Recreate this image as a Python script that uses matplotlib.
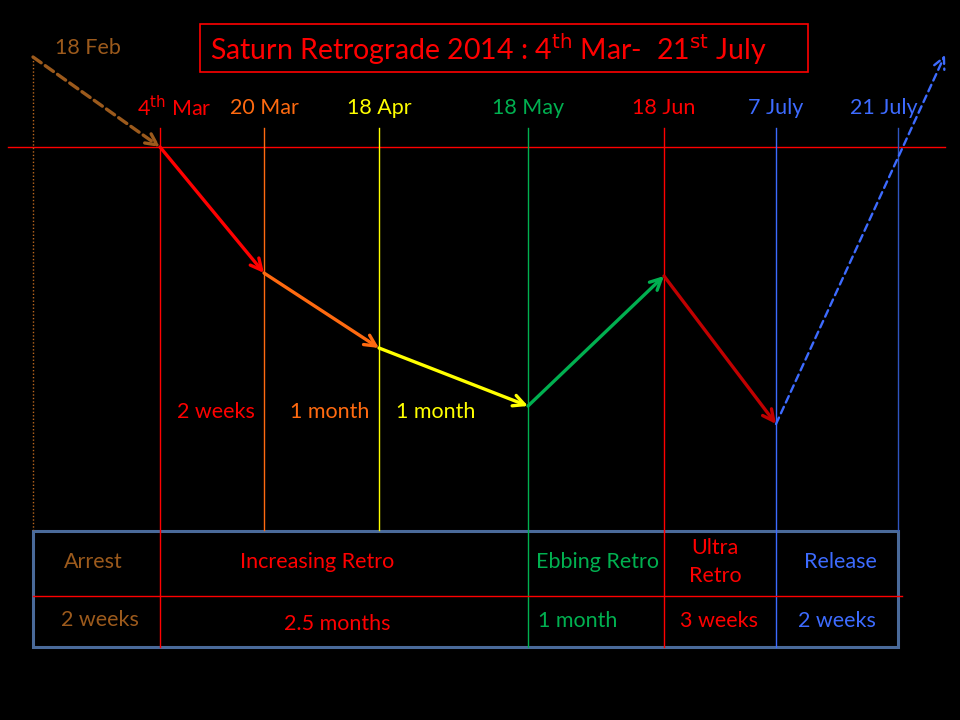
import matplotlib.pyplot as plt

plt.rcParams['font.family'] = ['Lato', 'DejaVu Sans']

BROWN = '#9C5A1C'
RED = '#FF0000'
ORANGE = '#FF6A10'
YELLOW = '#FFFF00'
GREEN = '#00B050'
DARKRED = '#C00000'
BLUE = '#3D6BFF'
NAVY = '#2F55C0'

# timeline markers (pixel layout of the slide)
dates = ['18 Feb', '4$^{\\mathrm{th}}$ Mar', '20 Mar', '18 Apr', '18 May', '18 Jun', '7 July', '21 July']
date_x = [33, 160, 264, 379, 528, 664, 776, 898]
date_colors = [BROWN, RED, ORANGE, YELLOW, GREEN, RED, BLUE, BLUE]
line_colors = [BROWN, RED, ORANGE, YELLOW, GREEN, RED, BLUE, NAVY]

# the motion path
path_x = [33, 160, 264, 379, 528, 664, 776, 945]
path_y = [57, 147, 273, 348, 406, 276, 424, 55]
seg_colors = [BROWN, RED, ORANGE, YELLOW, GREEN, DARKRED, BLUE]
seg_dashed = [True, False, False, False, False, False, True]

# durations between markers
gap_labels = ['2 weeks', '1 month', '1 month']
gap_x = [216, 330, 436]
gap_colors = [RED, ORANGE, YELLOW]

# table
phases = ['Arrest', 'Increasing Retro', 'Ebbing Retro', 'Ultra\nRetro', 'Release']
phase_x = [93, 317, 597, 715, 840]
lengths = ['2 weeks', '2.5 months', '1 month', '3 weeks', '2 weeks']
length_x = [100, 337, 578, 719, 837]
length_y = [620, 624, 621, 621, 621]
phase_colors = [BROWN, RED, GREEN, RED, BLUE]

FS = 15.5

fig = plt.figure(figsize=(9.6, 7.2), dpi=100, facecolor='black')
ax = fig.add_axes([0, 0, 1, 1])
ax.set_facecolor('black')
ax.set_xlim(0, 960)
ax.set_ylim(720, 0)
ax.axis('off')

# title box
ax.add_patch(plt.Rectangle((200, 24), 608, 48, fill=False, ec=RED, lw=1.2))
ax.text(210, 49, 'Saturn Retrograde 2014 : 4$^{\\mathrm{th}}$ Mar-  21$^{\\mathrm{st}}$ July',
        color=RED, fontsize=20.5, va='center', ha='left')

# horizontal reference line
ax.plot([8, 945], [147, 147], color=RED, lw=1.0)

# vertical marker lines
for i, (x, c) in enumerate(zip(date_x, line_colors)):
    if i == 0:
        ax.plot([x, x], [57, 530], color='#B8661E', lw=1.0, ls=(0, (1, 1.5)))
    elif x in (160, 528, 664, 776):
        ax.plot([x, x], [128, 647], color=c, lw=1.0)
    else:
        ax.plot([x, x], [128, 530], color=c, lw=1.0)

# date labels
for i, (lab, x, c) in enumerate(zip(dates, date_x, date_colors)):
    if i == 0:
        ax.text(88, 48, lab, color=c, fontsize=FS, ha='center', va='center')
    else:
        ax.text(x + 14 if i == 1 else x + (-14 if i == 7 else 0), 108, lab,
                color=c, fontsize=FS, ha='center', va='center')

# path arrows
for i in range(len(seg_colors)):
    if i == 0:
        lw, ls = 2.4, (0, (3, 1.5))
    elif seg_dashed[i]:
        lw, ls = 1.7, (0, (3, 2))
    else:
        lw, ls = 2.4, '-'
    ax.annotate('', xy=(path_x[i + 1], path_y[i + 1]), xytext=(path_x[i], path_y[i]),
                arrowprops=dict(arrowstyle='->', color=seg_colors[i], lw=lw, ls=ls,
                                mutation_scale=20, shrinkA=0, shrinkB=0))

for lab, x, c in zip(gap_labels, gap_x, gap_colors):
    ax.text(x, 412, lab, color=c, fontsize=FS, ha='center', va='center')

# table
ax.add_patch(plt.Rectangle((33, 531), 865, 116, fill=False, ec='#4A6A9A', lw=2.2))
ax.plot([33, 902], [596, 596], color=RED, lw=1.0)
for lab, x, c in zip(phases, phase_x, phase_colors):
    ax.text(x, 562, lab, color=c, fontsize=FS, ha='center', va='center', linespacing=1.45)
for lab, x, y, c in zip(lengths, length_x, length_y, phase_colors):
    ax.text(x, y, lab, color=c, fontsize=FS, ha='center', va='center')

fig.savefig('out.png', dpi=100, facecolor='black')
